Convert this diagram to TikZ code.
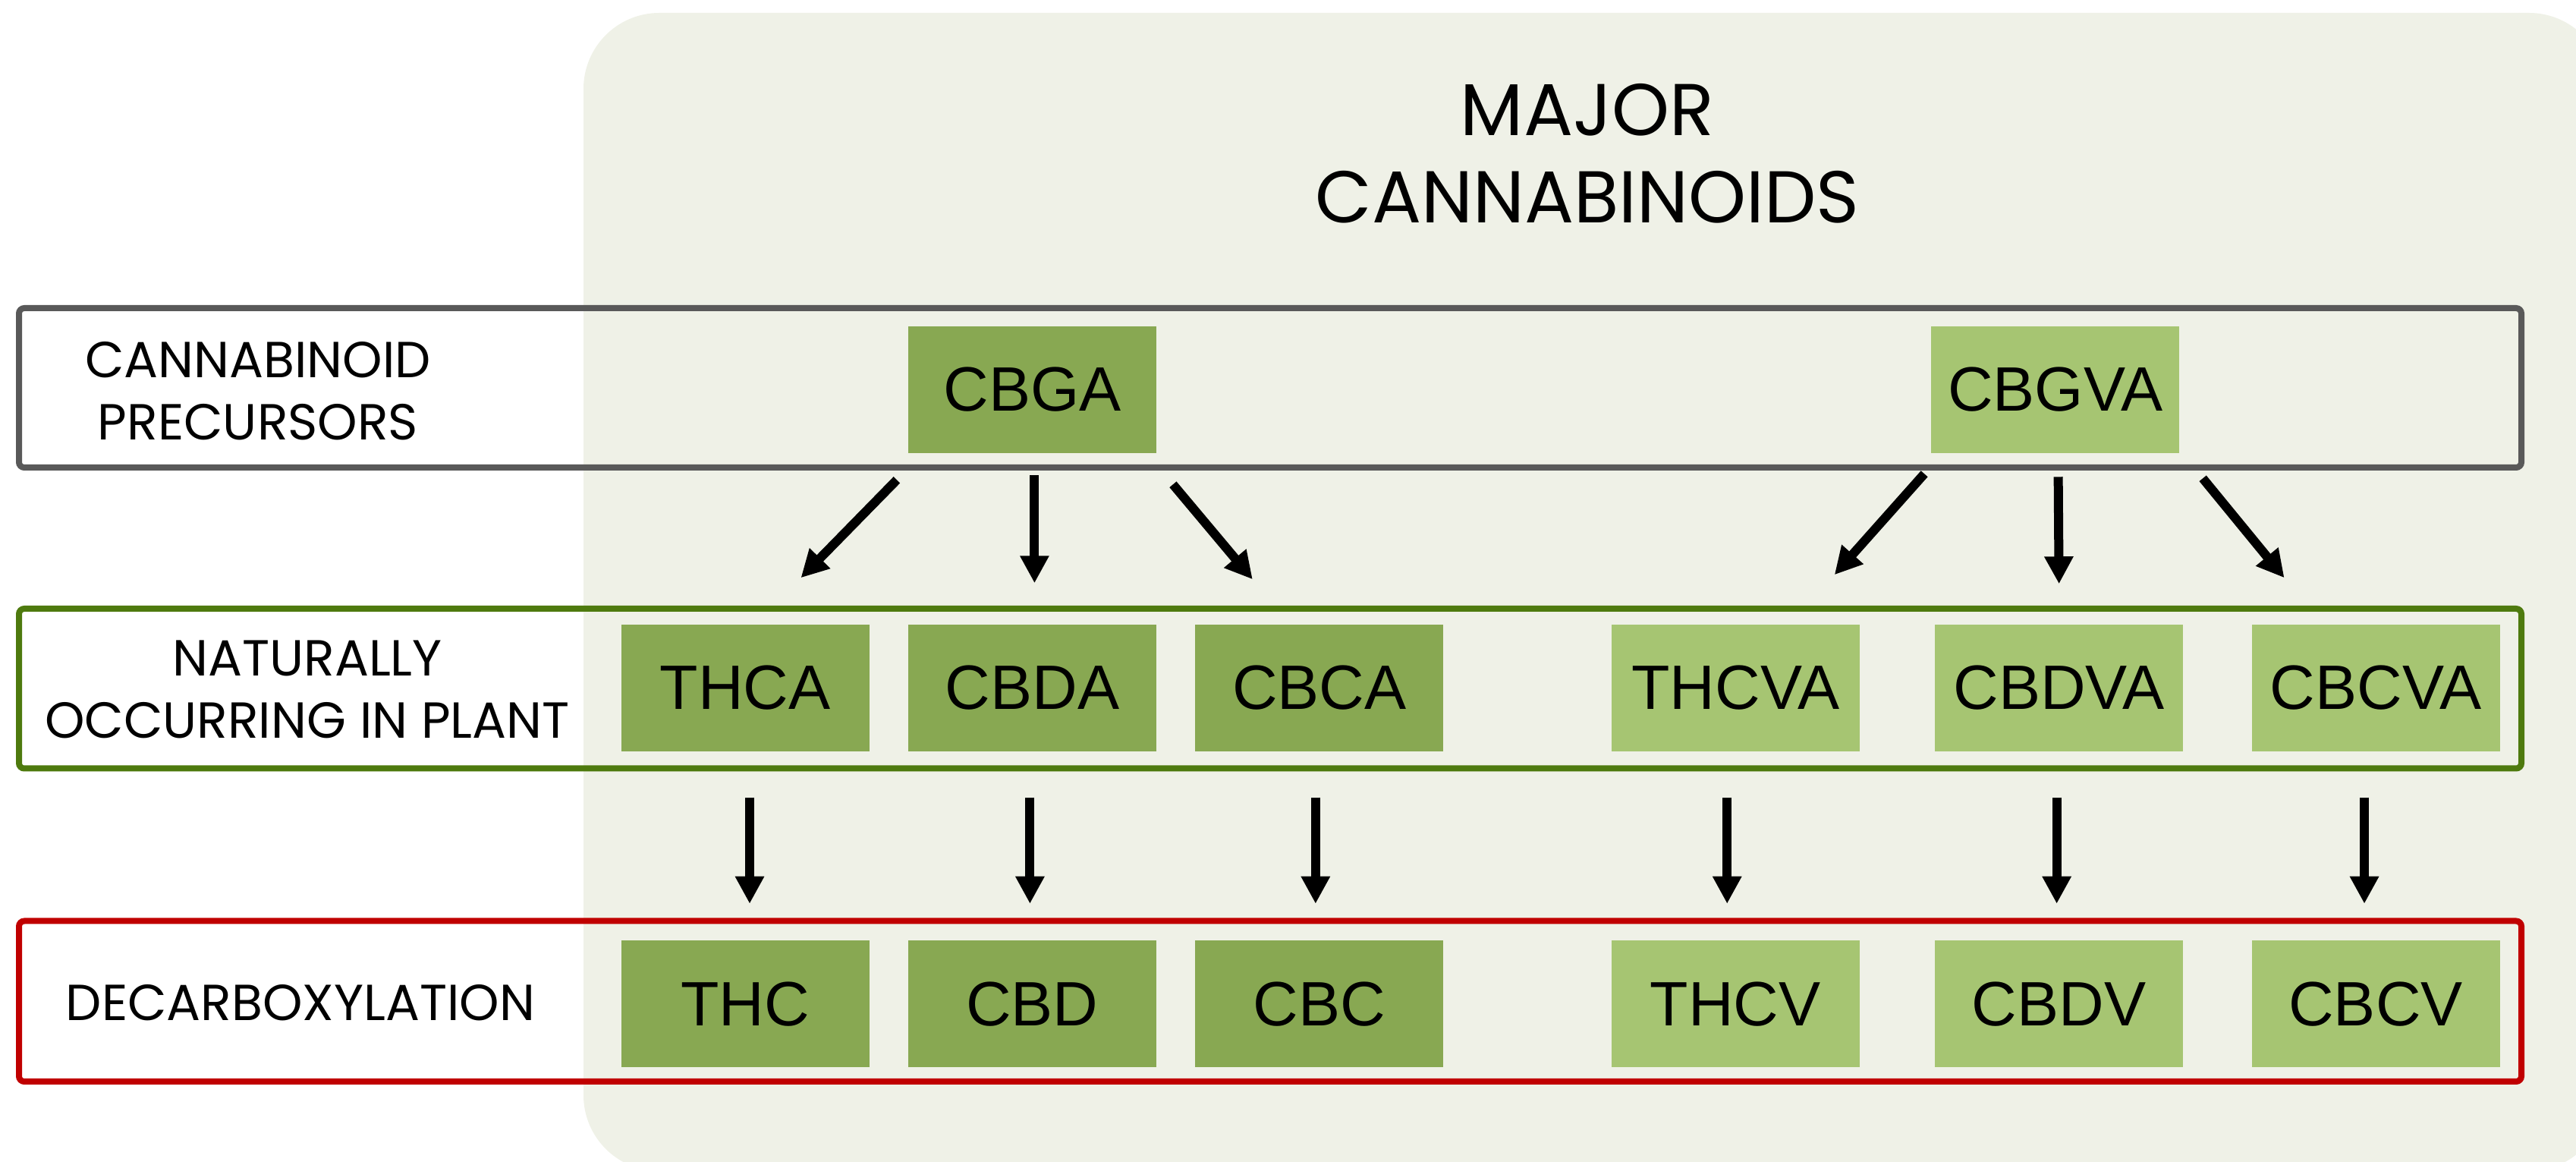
\documentclass[tikz,border=0pt]{standalone}
\usepackage{fontspec}
\setmainfont{Liberation Sans}
\newfontfamily\headfont{Poppins}
\usetikzlibrary{arrows.meta,positioning}

\definecolor{panelbg}{RGB}{239,241,231}
\definecolor{darkleaf}{RGB}{136,168,82}
\definecolor{lightleaf}{RGB}{166,197,114}
\definecolor{bandgray}{RGB}{89,89,89}
\definecolor{bandgreen}{RGB}{78,122,14}
\definecolor{bandred}{RGB}{192,0,0}

\tikzset{
  cbox/.style={rectangle,minimum width=3.27cm,minimum height=1.67cm,inner sep=0pt,
    font=\fontsize{23.5}{28}\selectfont},
  darkbox/.style={cbox,fill=darkleaf},
  lightbox/.style={cbox,fill=lightleaf},
  band/.style={line width=0.08cm,rounded corners=2pt},
  rowlabel/.style={align=center,font=\headfont\fontsize{19}{23.3}\selectfont},
  arr/.style={line width=0.12cm,-{Triangle[length=0.36cm,width=0.36cm]}}
}

\begin{document}
\begin{tikzpicture}
\useasboundingbox (0,0) rectangle (33.95,15.3);

% panel
\begin{scope}
\clip (0,0) rectangle (33.95,15.3);
\fill[panelbg,rounded corners=1cm] (7.69,-0.13) rectangle (34.33,15.13);
\end{scope}

\node[align=center,font=\headfont\fontsize{27.5}{32.7}\selectfont] (title) at (20.92,13.28) {MAJOR\\CANNABINOIDS};

% bands
\draw[band,bandgray] (0.25,11.24) rectangle (33.23,9.14);
\draw[band,bandgreen] (0.25,7.28) rectangle (33.23,5.175);
\draw[band,bandred] (0.25,3.165) rectangle (33.23,1.05);

\node[rowlabel] (precursors) at (3.40,10.15) {CANNABINOID\\PRECURSORS};
\node[rowlabel] (natural) at (4.05,6.22) {NATURALLY\\OCCURRING IN PLANT};
\node[rowlabel] (decarb) at (3.96,2.09) {DECARBOXYLATION};

% Nodes
\node[darkbox] (thca) at (9.82,6.235) {THCA};
\node[darkbox,right=0.5cm of thca] (cbda) {CBDA};
\node[darkbox,right=0.5cm of cbda] (cbca) {CBCA};
\node[lightbox,right=2.2cm of cbca] (thcva) {THCVA};
\node[lightbox,right=0.98cm of thcva] (cbdva) {CBDVA};
\node[lightbox,right=0.89cm of cbdva] (cbcva) {CBCVA};

\node[darkbox,above=2.25cm of cbda] (cbga) {CBGA};
\node[lightbox,above=2.25cm of cbdva,xshift=-0.05cm] (cbgva) {CBGVA};

\node[darkbox,below=2.48cm of thca] (thc) {THC};
\node[darkbox,below=2.48cm of cbda] (cbd) {CBD};
\node[darkbox,below=2.48cm of cbca] (cbc) {CBC};
\node[lightbox,below=2.48cm of thcva] (thcv) {THCV};
\node[lightbox,below=2.48cm of cbdva] (cbdv) {CBDV};
\node[lightbox,below=2.48cm of cbcva] (cbcv) {CBCV};

%arrows
\draw[arr] ([shift={(-1.785,-0.35)}]cbga.south) -- ([shift={(0.735,0.61)}]thca.north);
\draw[arr] ([shift={(0.03,-0.29)}]cbga.south) -- ([shift={(0.03,0.54)}]cbda.north);
\draw[arr] ([shift={(1.855,-0.41)}]cbga.south) -- ([shift={(-0.88,0.59)}]cbca.north);
\draw[arr] ([shift={(-1.725,-0.27)}]cbgva.south) -- ([shift={(1.305,0.65)}]thcva.north);
\draw[arr] ([shift={(0.04,-0.31)}]cbgva.south) -- ([shift={(0.0,0.53)}]cbdva.north);
\draw[arr] ([shift={(1.945,-0.33)}]cbgva.south) -- ([shift={(-1.205,0.61)}]cbcva.north);

\foreach \a/\b/\s in {thca/thc/0.06,cbda/cbd/-0.03,cbca/cbc/-0.05,thcva/thcv/-0.11,cbdva/cbdv/-0.03,cbcva/cbcv/-0.15}
  \draw[arr] ([xshift=\s cm,yshift=-0.6cm]\a.south) -- ([xshift=\s cm,yshift=0.48cm]\b.north);

\end{tikzpicture}
\end{document}
